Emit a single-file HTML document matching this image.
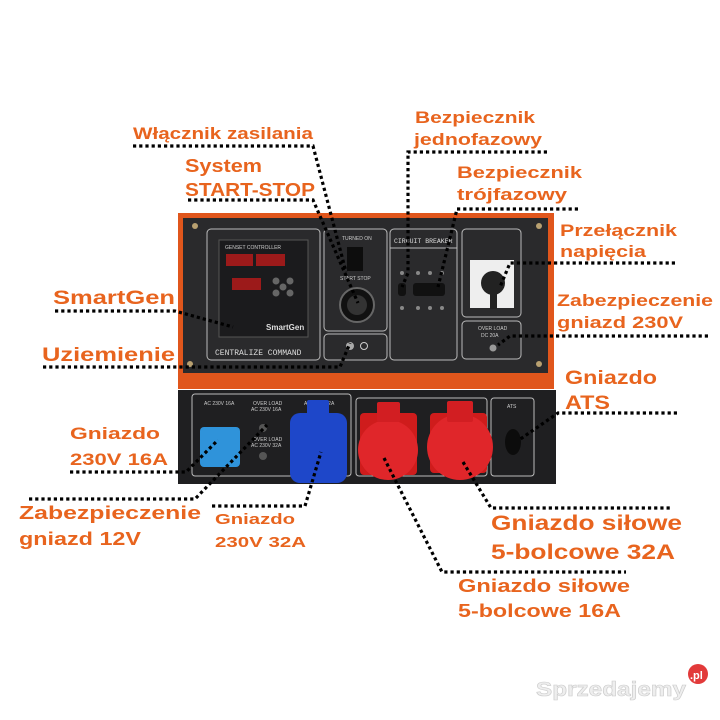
<!DOCTYPE html>
<html><head><meta charset="utf-8"><style>
html,body{margin:0;padding:0;background:#fff;width:720px;height:720px;overflow:hidden}
svg{display:block}
.t{font-family:"Liberation Sans",sans-serif;font-weight:bold;fill:#e8641e}
.s{font-family:"Liberation Sans",sans-serif;fill:#ccc;font-size:5px}
.d{stroke:#000;stroke-width:3.2;stroke-dasharray:3.2 3;fill:none}
.b{fill:none;stroke:#bbb;stroke-width:1}
</style></head><body>
<svg width="720" height="720" viewBox="0 0 720 720" xmlns="http://www.w3.org/2000/svg">
<!-- upper panel -->
<rect x="178" y="213" width="376" height="176" fill="#e0561c"/>
<rect x="183" y="218" width="365" height="155" fill="#2a2a2c"/>
<rect x="207" y="229" width="113" height="131" rx="4" class="b"/>
<rect x="219" y="240" width="89" height="97" fill="#1b1b1d" stroke="#555"/>
<text x="225" y="249" class="s">GENSET CONTROLLER</text>
<rect x="226" y="254" width="27" height="12" fill="#9c1a1a"/>
<rect x="256" y="254" width="29" height="12" fill="#9c1a1a"/>
<rect x="232" y="278" width="29" height="12" fill="#9c1a1a"/>
<circle cx="276" cy="281" r="3.5" fill="#666"/><circle cx="290" cy="281" r="3.5" fill="#666"/><circle cx="283" cy="287" r="3.5" fill="#666"/><circle cx="276" cy="293" r="3.5" fill="#666"/><circle cx="290" cy="293" r="3.5" fill="#666"/>
<text x="266" y="330" font-family="Liberation Sans,sans-serif" font-size="8" font-weight="bold" fill="#ddd">SmartGen</text>
<text x="215" y="355" font-family="Liberation Mono,monospace" font-size="8" fill="#ddd">CENTRALIZE COMMAND</text>
<rect x="324" y="229" width="63" height="102" rx="4" class="b"/>
<rect x="347" y="247" width="16" height="24" fill="#0d0d0d"/>
<text x="342" y="240" class="s">TURNED ON</text>
<text x="340" y="280" class="s">START STOP</text>
<circle cx="357" cy="305" r="17" fill="#111" stroke="#666" stroke-width="2"/>
<circle cx="357" cy="305" r="10" fill="#333"/>
<rect x="324" y="334" width="63" height="26" rx="4" class="b"/>
<circle cx="350" cy="346" r="4" fill="#aaa"/><circle cx="364" cy="346" r="3.5" fill="none" stroke="#ccc"/>
<rect x="390" y="229" width="67" height="131" rx="4" class="b"/>
<line x1="390" y1="248" x2="457" y2="248" stroke="#bbb"/>
<text x="394" y="243" font-family="Liberation Mono,monospace" font-size="6.5" fill="#ddd">CIRCUIT BREAKER</text>
<rect x="398" y="283" width="8" height="13" rx="3" fill="#111"/>
<rect x="413" y="283" width="32" height="13" rx="3" fill="#111"/>
<circle cx="402" cy="273" r="2" fill="#888"/><circle cx="418" cy="273" r="2" fill="#888"/><circle cx="430" cy="273" r="2" fill="#888"/><circle cx="442" cy="273" r="2" fill="#888"/>
<circle cx="402" cy="308" r="2" fill="#888"/><circle cx="418" cy="308" r="2" fill="#888"/><circle cx="430" cy="308" r="2" fill="#888"/><circle cx="442" cy="308" r="2" fill="#888"/>
<rect x="462" y="229" width="59" height="88" rx="4" class="b"/>
<rect x="470" y="260" width="44" height="48" fill="#eee"/>
<circle cx="493" cy="283" r="12" fill="#222"/>
<rect x="490" y="283" width="7" height="26" fill="#222"/>
<rect x="462" y="321" width="59" height="38" rx="4" class="b"/>
<text x="478" y="330" class="s">OVER LOAD</text><text x="481" y="337" class="s">DC 20A</text>
<circle cx="493" cy="348" r="3.5" fill="#999"/>
<circle cx="195" cy="226" r="3" fill="#b8a070"/><circle cx="539" cy="226" r="3" fill="#b8a070"/><circle cx="190" cy="364" r="3" fill="#b8a070"/><circle cx="539" cy="364" r="3" fill="#b8a070"/>
<!-- lower panel -->
<rect x="178" y="390" width="378" height="94" fill="#1f1f21"/>
<rect x="192" y="394" width="159" height="82" rx="3" class="b"/>
<rect x="356" y="398" width="131" height="78" rx="3" class="b"/>
<rect x="491" y="398" width="43" height="78" rx="3" class="b"/>
<text x="204" y="405" class="s">AC 230V 16A</text>
<text x="253" y="405" class="s">OVER LOAD</text><text x="251" y="411" class="s">AC 230V 16A</text>
<text x="253" y="441" class="s">OVER LOAD</text><text x="251" y="447" class="s">AC 230V 32A</text>
<circle cx="263" cy="428" r="4" fill="#555"/><circle cx="263" cy="456" r="4" fill="#555"/>
<text x="304" y="405" class="s">AC 230V 32A</text>
<text x="507" y="408" class="s">ATS</text>
<rect x="200" y="427" width="40" height="40" rx="4" fill="#2f93da"/>
<rect x="290" y="413" width="57" height="70" rx="10" fill="#1e47c9"/>
<rect x="307" y="400" width="22" height="16" rx="2" fill="#1e47c9"/>
<rect x="360" y="413" width="57" height="62" rx="4" fill="#cf1c1c"/>
<circle cx="388" cy="450" r="30" fill="#e0262a"/>
<rect x="377" y="402" width="23" height="20" rx="2" fill="#d21e22"/>
<rect x="430" y="413" width="57" height="60" rx="4" fill="#cf1c1c"/>
<circle cx="460" cy="447" r="33" fill="#e0262a"/>
<rect x="447" y="401" width="26" height="21" rx="2" fill="#d21e22"/>
<ellipse cx="513" cy="442" rx="8" ry="13" fill="#0c0c0c"/>
<!-- connectors -->
<polyline class="d" points="133,146 313,146 346,272"/>
<polyline class="d" points="188,200 313,200 358,303"/>
<polyline class="d" points="55,311 175,311 233,327"/>
<polyline class="d" points="43,367 340,367 350,343"/>
<polyline class="d" points="547,152 408,152 408,273 402,287"/>
<polyline class="d" points="578,209 457,209 438,287"/>
<polyline class="d" points="675,263 510,263 500,287"/>
<polyline class="d" points="708,336 510,336 498,345"/>
<polyline class="d" points="677,413 558,413 519,440"/>
<polyline class="d" points="70,472 186,472 218,440"/>
<polyline class="d" points="29,499 195,499 267,425"/>
<polyline class="d" points="212,506 305,506 321,452"/>
<polyline class="d" points="384,458 442,572 626,572"/>
<polyline class="d" points="463,462 491,508 672,508"/>
<!-- labels -->
<text class="t" x="133" y="139" font-size="17" textLength="180" lengthAdjust="spacingAndGlyphs">Włącznik zasilania</text>
<text class="t" x="185" y="172" font-size="18" textLength="77" lengthAdjust="spacingAndGlyphs">System</text>
<text class="t" x="185" y="196" font-size="18" textLength="130" lengthAdjust="spacingAndGlyphs">START-STOP</text>
<text class="t" x="53" y="304" font-size="19" textLength="122" lengthAdjust="spacingAndGlyphs">SmartGen</text>
<text class="t" x="42" y="361" font-size="19" textLength="133" lengthAdjust="spacingAndGlyphs">Uziemienie</text>
<text class="t" x="415" y="123" font-size="17" textLength="120" lengthAdjust="spacingAndGlyphs">Bezpiecznik</text>
<text class="t" x="414" y="145" font-size="17" textLength="128" lengthAdjust="spacingAndGlyphs">jednofazowy</text>
<text class="t" x="457" y="178" font-size="17" textLength="125" lengthAdjust="spacingAndGlyphs">Bezpiecznik</text>
<text class="t" x="457" y="200" font-size="17" textLength="110" lengthAdjust="spacingAndGlyphs">trójfazowy</text>
<text class="t" x="560" y="236" font-size="17" textLength="117" lengthAdjust="spacingAndGlyphs">Przełącznik</text>
<text class="t" x="560" y="257" font-size="17" textLength="86" lengthAdjust="spacingAndGlyphs">napięcia</text>
<text class="t" x="557" y="306" font-size="17" textLength="156" lengthAdjust="spacingAndGlyphs">Zabezpieczenie</text>
<text class="t" x="557" y="328" font-size="17" textLength="126" lengthAdjust="spacingAndGlyphs">gniazd 230V</text>
<text class="t" x="565" y="384" font-size="19" textLength="92" lengthAdjust="spacingAndGlyphs">Gniazdo</text>
<text class="t" x="565" y="409" font-size="19" textLength="45" lengthAdjust="spacingAndGlyphs">ATS</text>
<text class="t" x="70" y="439" font-size="17" textLength="90" lengthAdjust="spacingAndGlyphs">Gniazdo</text>
<text class="t" x="70" y="465" font-size="17" textLength="98" lengthAdjust="spacingAndGlyphs">230V 16A</text>
<text class="t" x="19" y="519" font-size="18" textLength="182" lengthAdjust="spacingAndGlyphs">Zabezpieczenie</text>
<text class="t" x="19" y="545" font-size="18" textLength="122" lengthAdjust="spacingAndGlyphs">gniazd 12V</text>
<text class="t" x="215" y="524" font-size="15" textLength="80" lengthAdjust="spacingAndGlyphs">Gniazdo</text>
<text class="t" x="215" y="547" font-size="15" textLength="91" lengthAdjust="spacingAndGlyphs">230V 32A</text>
<text class="t" x="491" y="530" font-size="21" textLength="191" lengthAdjust="spacingAndGlyphs">Gniazdo siłowe</text>
<text class="t" x="491" y="559" font-size="21" textLength="184" lengthAdjust="spacingAndGlyphs">5-bolcowe 32A</text>
<text class="t" x="458" y="592" font-size="18" textLength="172" lengthAdjust="spacingAndGlyphs">Gniazdo siłowe</text>
<text class="t" x="458" y="617" font-size="18" textLength="163" lengthAdjust="spacingAndGlyphs">5-bolcowe 16A</text>
<!-- watermark -->
<text x="536" y="696" font-family="Liberation Sans,sans-serif" font-size="20" font-weight="bold" fill="#eee" stroke="#ccc" stroke-width="0.6" textLength="150" lengthAdjust="spacingAndGlyphs">Sprzedajemy</text>
<circle cx="698" cy="674" r="10" fill="#e23a3a"/>
<text x="690" y="679" font-family="Liberation Sans,sans-serif" font-size="11" font-weight="bold" fill="#fff">.pl</text>
</svg>
</body></html>
